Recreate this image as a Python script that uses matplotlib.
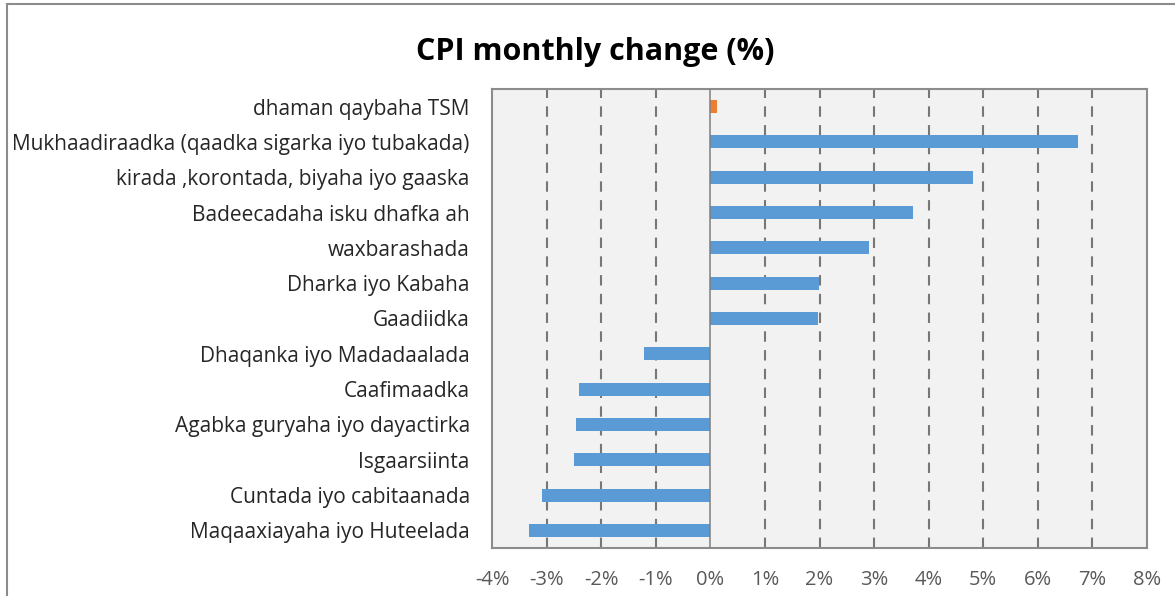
import numpy as np
import matplotlib.pyplot as plt
from matplotlib.patches import Rectangle
from matplotlib.ticker import FuncFormatter

categories = [
    'dhaman qaybaha TSM',
    'Mukhaadiraadka (qaadka sigarka iyo tubakada)',
    'kirada ,korontada, biyaha iyo gaaska',
    'Badeecadaha isku dhafka ah',
    'waxbarashada',
    'Dharka iyo Kabaha',
    'Gaadiidka',
    'Dhaqanka iyo Madadaalada',
    'Caafimaadka',
    'Agabka guryaha iyo dayactirka',
    'Isgaarsiinta',
    'Cuntada iyo cabitaanada',
    'Maqaaxiayaha iyo Huteelada',
]
values = [0.12, 6.74, 4.82, 3.72, 2.91, 1.99, 1.98,
          -1.22, -2.40, -2.47, -2.50, -3.08, -3.32]
bar_colors = ['#ED7D31'] + ['#5B9BD5'] * 12
xticks = list(range(-4, 9))

plt.rcParams['font.family'] = ['Open Sans', 'DejaVu Sans']

W, H = 1175, 596
fig = plt.figure(figsize=(W / 100, H / 100), dpi=100)
ax = fig.add_axes([492 / W, 1 - 548 / H, (1147 - 492) / W, (548 - 89) / H])

y = np.arange(len(categories))
ax.barh(y, values, height=0.37, color=bar_colors, zorder=3)

ax.set_xlim(-4, 8)
ax.set_ylim(len(categories) - 0.5, -0.5)
ax.set_facecolor('#F2F2F2')

ax.set_xticks(xticks)
ax.xaxis.set_major_formatter(FuncFormatter(lambda v, p: f'{v:.0f}%'))
ax.set_yticks(y)
ax.set_yticklabels(categories)

ax.tick_params(axis='x', length=0, pad=16, labelsize=14.5, labelcolor='#595959')
ax.tick_params(axis='y', length=0, pad=16, labelsize=15, labelcolor='#262626')

for xv in xticks:
    if xv not in (-4, 0, 8):
        ax.axvline(xv, color='#777777', lw=1.5, linestyle=(0, (5, 4)), zorder=1)
ax.axvline(0, color='#7F7F7F', lw=1.1, zorder=4)

for s in ax.spines.values():
    s.set_color('#8C8C8C')
    s.set_linewidth(1.5)

fig.text(595 / W, 1 - 52 / H, 'CPI monthly change (%)', ha='center', va='center',
         fontsize=22, fontweight='bold', color='black')

# outer chart border, only left and top visible in the crop
fig.patches.append(Rectangle((7 / W, -0.1), 1.2, 1 - 4 / H + 0.1, transform=fig.transFigure,
                             fill=False, edgecolor='#8C8C8C', lw=1.5))

fig.savefig('out.png', dpi=100, facecolor='white')
